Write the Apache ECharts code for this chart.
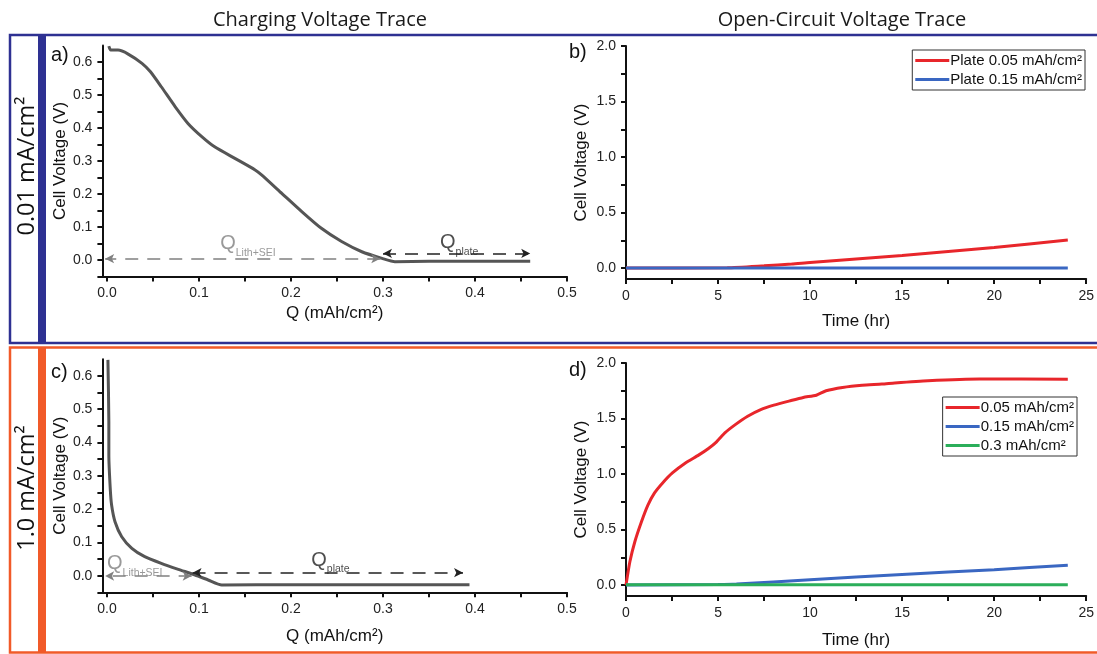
<!DOCTYPE html>
<html>
<head>
<meta charset="utf-8">
<script src="https://cdn.jsdelivr.net/npm/echarts@6/dist/echarts.min.js"></script>
<style>
  html, body { margin: 0; padding: 0; background: #fff; }
  #chart { width: 1097px; height: 654px; }
</style>
</head>
<body>
<div id="chart"></div>
<script>
// panel a: charging trace at 0.01 mA/cm2
const aQ = [0.002, 0.004, 0.012, 0.023, 0.038, 0.047, 0.059, 0.074, 0.088, 0.103, 0.117, 0.139, 0.161, 0.168, 0.19, 0.212, 0.233, 0.255, 0.277, 0.299, 0.313, 0.35, 0.4, 0.46];
const aV = [0.648, 0.636, 0.636, 0.624, 0.596, 0.571, 0.525, 0.465, 0.414, 0.374, 0.343, 0.308, 0.273, 0.258, 0.202, 0.146, 0.096, 0.056, 0.025, 0.005, -0.005, -0.004, -0.004, -0.004];

// panel c: charging trace at 1.0 mA/cm2
const cQ = [0.001, 0.002, 0.002, 0.0035, 0.005, 0.0087, 0.016, 0.027, 0.041, 0.059, 0.0775, 0.0957, 0.110, 0.1247, 0.2, 0.3, 0.394];
const cV = [0.648, 0.462, 0.362, 0.263, 0.212, 0.162, 0.117, 0.082, 0.057, 0.037, 0.019, 0.002, -0.013, -0.028, -0.027, -0.027, -0.027];

// panel b: open-circuit traces
const bRedT = [0, 5.5, 7.5, 9, 10, 15, 20, 24];
const bRedV = [0, 0.003, 0.02, 0.035, 0.05, 0.112, 0.185, 0.252];
const bBlueT = [0, 12, 24];
const bBlueV = [0, 0, 0];

// panel d: open-circuit traces
const dRedT = [0, 0.21, 0.48, 0.84, 1.19, 1.55, 1.99, 2.52, 3.23, 3.94, 4.48, 4.92, 5.37, 5.9, 6.61, 7.32, 8.03, 8.92, 9.63, 10.34, 10.87, 11.76, 12.83, 13.9, 14.6, 16.4, 19.2, 24];
const dRedV = [0, 0.21, 0.39, 0.57, 0.72, 0.83, 0.92, 1.01, 1.10, 1.17, 1.23, 1.29, 1.37, 1.44, 1.52, 1.58, 1.62, 1.66, 1.69, 1.71, 1.75, 1.78, 1.80, 1.81, 1.82, 1.84, 1.856, 1.853];
const dBlueT = [0, 5, 6, 10, 15, 20, 24];
const dBlueV = [0, 0.004, 0.008, 0.048, 0.095, 0.138, 0.178];
const dGreenT = [0, 12, 24];
const dGreenV = [0.002, 0.003, 0.003];

const legendB = ['Plate 0.05 mAh/cm²', 'Plate 0.15 mAh/cm²'];
const legendD = ['0.05 mAh/cm²', '0.15 mAh/cm²', '0.3 mAh/cm²'];

// tick labels
const qLabels = [0, 0.1, 0.2, 0.3, 0.4, 0.5];
const qTicks = [0, 0.05, 0.1, 0.15, 0.2, 0.25, 0.3, 0.35, 0.4, 0.45, 0.5];
const vLabels = [0, 0.1, 0.2, 0.3, 0.4, 0.5, 0.6];
const vTicks = [-0.05, 0, 0.05, 0.1, 0.15, 0.2, 0.25, 0.3, 0.35, 0.4, 0.45, 0.5, 0.55, 0.6];
const tLabels = [0, 5, 10, 15, 20, 25];
const tTicks = [0, 2.5, 5, 7.5, 10, 12.5, 15, 17.5, 20, 22.5, 25];
const ocvLabels = [0, 0.5, 1, 1.5, 2];
const ocvTicks = [0, 0.25, 0.5, 0.75, 1, 1.25, 1.5, 1.75, 2];

// Q annotations: [Q start, Q end, V]
const aLithArrow = [0.297, -0.002, 0.004];
const aPlateArrow = [0.3, 0.46, 0.02];
const cLithArrow = [0.092, -0.002, -0.001];
const cPlateArrow = [0.093, 0.387, 0.009];
// label anchors: [Q, V]
const aLithText = [0.123, 0.055];
const aPlateText = [0.362, 0.06];
const cLithText = [0.0, 0.042];
const cPlateText = [0.222, 0.053];

const RED = '#e8262b', BLUE = '#3a67c2', GREEN = '#2bae5a', GREY = '#555555';
const FRAME_BLUE = '#2e3192', FRAME_ORANGE = '#f15a29';
const zip = (xs, ys) => xs.map((x, i) => [x, ys[i]]);

const tickFont = { fontFamily: 'Liberation Sans', fontSize: 14, color: '#222' };
const nameFont = { fontFamily: 'Liberation Sans', fontSize: 17, color: '#111' };

function xAxisOf(grid, min, max, labels, ticks, name, gap, fmt) {
  return {
    type: 'value', gridIndex: grid, min: min, max: max,
    name: name, nameLocation: 'middle', nameGap: gap, nameTextStyle: nameFont,
    axisLine: { show: true, onZero: false, lineStyle: { color: '#111', width: 2 } },
    axisTick: { show: true, inside: false, length: 5, customValues: ticks, lineStyle: { color: '#111', width: 2 } },
    axisLabel: Object.assign({ margin: 10, customValues: labels, formatter: fmt }, tickFont),
    splitLine: { show: false }
  };
}
function yAxisOf(grid, min, max, labels, ticks, gap) {
  return {
    type: 'value', gridIndex: grid, min: min, max: max,
    name: 'Cell Voltage (V)', nameLocation: 'middle', nameGap: gap, nameTextStyle: nameFont,
    axisLine: { show: true, onZero: false, lineStyle: { color: '#111', width: 2 } },
    axisTick: { show: true, inside: false, length: 5, customValues: ticks, lineStyle: { color: '#111', width: 2 } },
    axisLabel: Object.assign({ margin: 10, customValues: labels, formatter: v => v.toFixed(1) }, tickFont),
    splitLine: { show: false }
  };
}

function arrowLine(grid, arr, color) {
  return {
    type: 'line', xAxisIndex: grid, yAxisIndex: grid, data: [], silent: true,
    markLine: {
      silent: true, symbol: ['arrow', 'arrow'], symbolSize: [7, 9],
      label: { show: false },
      lineStyle: { color: color, type: [13, 9], width: 1.6 },
      data: [[{ coord: [arr[0], arr[2]] }, { coord: [arr[1], arr[2]] }]]
    }
  };
}
function qText(grid, pos, sub, color) {
  return {
    type: 'scatter', xAxisIndex: grid, yAxisIndex: grid, symbolSize: 0, silent: true,
    data: [pos],
    label: {
      show: true, position: 'right', distance: 0,
      formatter: '{q|Q}{s|' + sub + '}',
      rich: {
        q: { fontFamily: 'Liberation Sans', fontSize: 20, color: color, verticalAlign: 'bottom', lineHeight: 24 },
        s: { fontFamily: 'Liberation Sans', fontSize: 10.5, color: color, verticalAlign: 'bottom', lineHeight: 24, padding: [0, 0, -5, 0] }
      }
    }
  };
}
function curve(grid, name, pts, color) {
  return {
    type: 'line', name: name, xAxisIndex: grid, yAxisIndex: grid,
    data: pts, showSymbol: false, symbol: 'none', smooth: 0.2,
    lineStyle: { color: color, width: 3 }, itemStyle: { color: color }
  };
}
function legendOf(names, right, top) {
  return {
    data: names, orient: 'vertical', right: right, top: top,
    borderColor: '#333', borderWidth: 1, borderRadius: 0, padding: [3, 3, 3, 3], itemGap: 4,
    icon: 'rect', itemWidth: 34, itemHeight: 3,
    textStyle: { fontFamily: 'Liberation Sans', fontSize: 15, color: '#111', padding: [0, 0, 0, -4] }
  };
}

const chart = echarts.init(document.getElementById('chart'), null, { renderer: 'canvas' });

const option = {
  backgroundColor: '#fff',
  animation: false,
  grid: [
    { left: 102.4, top: 45.5, width: 464.6, height: 231 },
    { left: 626, top: 46, width: 468.7, height: 233.1 },
    { left: 102.4, top: 359.2, width: 464.6, height: 233.1 },
    { left: 626, top: 363, width: 468.7, height: 233.1 }
  ],
  xAxis: [
    xAxisOf(0, -0.005, 0.5, qLabels, qTicks, 'Q (mAh/cm²)', 28, v => v.toFixed(1)),
    xAxisOf(1, 0, 25, tLabels, tTicks, 'Time (hr)', 34, v => String(v)),
    xAxisOf(2, -0.005, 0.5, qLabels, qTicks, 'Q (mAh/cm²)', 36, v => v.toFixed(1)),
    xAxisOf(3, 0, 25, tLabels, tTicks, 'Time (hr)', 36, v => String(v))
  ],
  yAxis: [
    yAxisOf(0, -0.05, 0.65, vLabels, vTicks, 33),
    yAxisOf(1, -0.1, 2.0, ocvLabels, ocvTicks, 36),
    yAxisOf(2, -0.05, 0.65, vLabels, vTicks, 33),
    yAxisOf(3, -0.1, 2.0, ocvLabels, ocvTicks, 36)
  ],
  legend: [legendOf(legendB, 12, 50), legendOf(legendD, 20, 397)],
  series: [
    curve(0, 'a', zip(aQ, aV), GREY),
    curve(2, 'c', zip(cQ, cV), GREY),
    curve(1, legendB[0], zip(bRedT, bRedV), RED),
    curve(1, legendB[1], zip(bBlueT, bBlueV), BLUE),
    curve(3, legendD[0], zip(dRedT, dRedV), RED),
    curve(3, legendD[1], zip(dBlueT, dBlueV), BLUE),
    curve(3, legendD[2], zip(dGreenT, dGreenV), GREEN),
    arrowLine(0, aLithArrow, '#808080'),
    arrowLine(0, aPlateArrow, '#222'),
    arrowLine(2, cLithArrow, '#808080'),
    arrowLine(2, cPlateArrow, '#222'),
    qText(0, aLithText, 'Lith+SEI', '#808080'),
    qText(0, aPlateText, 'plate', '#222'),
    qText(2, cLithText, 'Lith+SEI', '#808080'),
    qText(2, cPlateText, 'plate', '#222')
  ],
  graphic: [
    // row frames
    { type: 'rect', shape: { x: 10, y: 35, width: 1095, height: 308 }, style: { fill: 'none', stroke: FRAME_BLUE, lineWidth: 2.5 }, silent: true },
    { type: 'rect', shape: { x: 38, y: 35, width: 8, height: 308 }, style: { fill: FRAME_BLUE }, silent: true },
    { type: 'rect', shape: { x: 10, y: 347.5, width: 1095, height: 305 }, style: { fill: 'none', stroke: FRAME_ORANGE, lineWidth: 2.5 }, silent: true },
    { type: 'rect', shape: { x: 38, y: 347.5, width: 8, height: 305 }, style: { fill: FRAME_ORANGE }, silent: true },
    // column titles
    { type: 'text', x: 320, y: 20, style: { text: 'Charging Voltage Trace', fontFamily: 'Open Sans', fontSize: 20, fill: '#1a1a1a', align: 'center', verticalAlign: 'middle' } },
    { type: 'text', x: 842, y: 20, style: { text: 'Open-Circuit Voltage Trace', fontFamily: 'Open Sans', fontSize: 20, fill: '#1a1a1a', align: 'center', verticalAlign: 'middle' } },
    // row labels
    { type: 'text', x: 27, y: 166, rotation: Math.PI / 2, style: { text: '0.01 mA/cm²', fontFamily: 'Open Sans', fontSize: 23.5, fill: '#111', align: 'center', verticalAlign: 'middle' } },
    { type: 'text', x: 27, y: 488, rotation: Math.PI / 2, style: { text: '1.0 mA/cm²', fontFamily: 'Open Sans', fontSize: 23.5, fill: '#111', align: 'center', verticalAlign: 'middle' } },
    // panel letters
    { type: 'text', x: 51, y: 55, style: { text: 'a)', fontFamily: 'Liberation Sans', fontSize: 20, fill: '#111', verticalAlign: 'middle' } },
    { type: 'text', x: 569, y: 52, style: { text: 'b)', fontFamily: 'Liberation Sans', fontSize: 20, fill: '#111', verticalAlign: 'middle' } },
    { type: 'text', x: 51, y: 372, style: { text: 'c)', fontFamily: 'Liberation Sans', fontSize: 20, fill: '#111', verticalAlign: 'middle' } },
    { type: 'text', x: 569, y: 370, style: { text: 'd)', fontFamily: 'Liberation Sans', fontSize: 20, fill: '#111', verticalAlign: 'middle' } }
  ]
};

chart.setOption(option);
window.addEventListener('resize', () => chart.resize());
</script>
</body>
</html>
